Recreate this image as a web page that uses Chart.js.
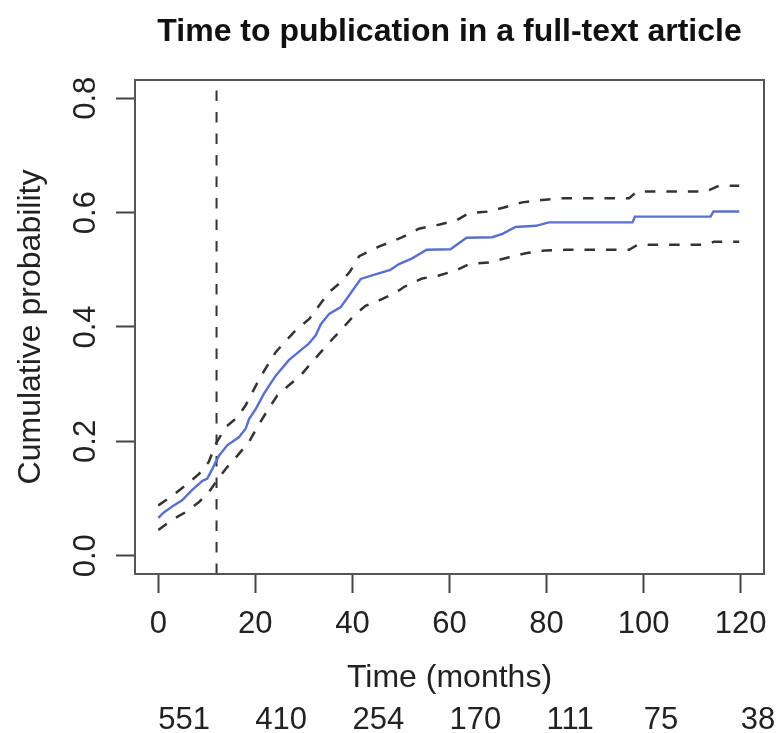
<!DOCTYPE html>
<html>
<head>
<meta charset="utf-8">
<script src="https://cdn.jsdelivr.net/npm/chart.js@4/dist/chart.umd.min.js"></script>
<style>
	html, body { margin: 0; padding: 0; background: #fff; }
	#wrap { width: 782px; height: 733px; }
</style>
</head>
<body>
<div id="wrap"><canvas id="cumInc"></canvas></div>
<script>
// axis ticks and limits (R pads the data range by 4%)
var xTicks = [0, 20, 40, 60, 80, 100, 120];
var yTicks = [0, 0.2, 0.4, 0.6, 0.8];
var xRange = [-4.8, 124.8];
var yRange = [-0.032, 0.832];

// number at risk under the axis
var riskCounts = [551, 410, 254, 170, 111, 75, 38];

// landmark (months)
var landmark = 12;

// cumulative probability, corners of the step curve
var cumTime = [0, 1.2, 3.2, 4.9, 7.0, 9.1, 10.1, 11.5, 12.5, 14.2, 16.6, 18.0, 18.7, 20.1, 21.8, 24.2, 26.9, 30.0, 31.0, 32.4, 33.5, 35.2, 37.6, 39.3, 41.7, 44.4, 47.8, 49.6, 52.3, 55.3, 60.2, 63.5, 68.8, 70.9, 73.6, 77.8, 80.5, 97.7, 98.2, 113.8, 114.4, 119.7];
var cumProb = [0.066, 0.076, 0.088, 0.097, 0.115, 0.131, 0.135, 0.158, 0.175, 0.193, 0.207, 0.222, 0.239, 0.257, 0.284, 0.315, 0.342, 0.364, 0.371, 0.385, 0.405, 0.423, 0.435, 0.455, 0.484, 0.491, 0.500, 0.510, 0.520, 0.535, 0.536, 0.556, 0.557, 0.563, 0.575, 0.577, 0.583, 0.583, 0.593, 0.593, 0.602, 0.602];

// upper confidence limit
var upperTime = [0, 2.9, 5.6, 8.4, 10.4, 11.8, 13.9, 16.3, 18.0, 19.4, 20.8, 22.5, 24.2, 26.3, 28.3, 31.1, 33.1, 35.2, 37.6, 39.5, 41.4, 45.3, 50.3, 53.7, 57.8, 61.3, 64.0, 68.1, 71.6, 75.0, 79.1, 83.2, 97.0, 98.6, 112.8, 115.5, 119.7];
var upperProb = [0.088, 0.105, 0.123, 0.143, 0.164, 0.195, 0.225, 0.242, 0.263, 0.286, 0.309, 0.333, 0.356, 0.376, 0.394, 0.414, 0.437, 0.461, 0.478, 0.497, 0.524, 0.540, 0.557, 0.572, 0.579, 0.586, 0.599, 0.602, 0.610, 0.618, 0.622, 0.625, 0.625, 0.637, 0.637, 0.647, 0.647];

// lower confidence limit
var lowerTime = [0, 2.9, 5.6, 8.4, 10.4, 12.2, 14.2, 16.3, 18.7, 20.4, 22.5, 24.5, 26.9, 29.3, 31.7, 33.8, 35.9, 37.9, 40.3, 42.7, 46.2, 49.6, 50.6, 54.4, 57.8, 61.3, 64.0, 68.1, 72.3, 75.7, 79.8, 83.9, 97.0, 98.8, 112.5, 114.5, 119.7];
var lowerProb = [0.045, 0.063, 0.076, 0.094, 0.111, 0.133, 0.155, 0.175, 0.199, 0.225, 0.254, 0.280, 0.298, 0.315, 0.339, 0.359, 0.379, 0.397, 0.420, 0.437, 0.449, 0.464, 0.470, 0.485, 0.490, 0.499, 0.510, 0.513, 0.522, 0.529, 0.534, 0.535, 0.535, 0.544, 0.544, 0.549, 0.549];

function pairs(xs, ys) {
	return xs.map(function (x, i) { return {x: x, y: ys[i]}; });
}

function fixTicks(values) {
	return function (scale) {
		scale.ticks = values.map(function (v) { return {value: v}; });
	};
}

Chart.defaults.font.family = '"Liberation Sans", Arial, Helvetica, sans-serif';
Chart.defaults.color = '#222';

// R-style box round the plot region
var frame = {
	id: 'frame',
	afterDatasetsDraw: function (chart) {
		var a = chart.chartArea;
		var ctx = chart.ctx;
		ctx.save();
		ctx.strokeStyle = '#555';
		ctx.lineWidth = 2;
		ctx.strokeRect(a.left, a.top, a.right - a.left, a.bottom - a.top);
		ctx.restore();
	}
};

var dashed = [10.5, 11];

var config = {
	type: 'line',
	data: {
		datasets: [
			{
				data: pairs(upperTime, upperProb),
				borderColor: '#333',
				borderWidth: 2.5,
				borderDash: dashed,
			},
			{
				data: pairs(lowerTime, lowerProb),
				borderColor: '#333',
				borderWidth: 2.5,
				borderDash: dashed,
			},
			{
				data: pairs(cumTime, cumProb),
				borderColor: '#5a6fcf',
				borderWidth: 2.4,
			},
			{
				data: [{x: landmark, y: yRange[0]}, {x: landmark, y: yRange[1]}],
				borderColor: '#333',
				borderWidth: 2,
				borderDash: dashed,
			}
		]
	},
	options: {
		responsive: true,
		maintainAspectRatio: false,
		animation: false,
		parsing: false,
		layout: {
			padding: {left: 0, top: 0, right: 18, bottom: 0}
		},
		elements: {
			point: {radius: 0},
			line: {tension: 0, fill: false}
		},
		scales: {
			x: {
				type: 'linear',
				position: 'bottom',
				min: xRange[0],
				max: xRange[1],
				weight: 0,
				afterBuildTicks: fixTicks(xTicks),
				afterFit: function (s) { s.height = 123; },
				ticks: {
					autoSkip: false,
					maxRotation: 0,
					padding: 13,
					font: {size: 31},
					callback: function (v) { return String(v); }
				},
				grid: {
					drawOnChartArea: false,
					drawTicks: true,
					tickLength: 19,
					tickWidth: 2,
					tickColor: '#444'
				},
				border: {display: false},
				title: {
					display: true,
					text: 'Time (months)',
					font: {size: 32},
					padding: {top: 0, bottom: 0}
				}
			},
			risk: {
				type: 'linear',
				axis: 'x',
				position: 'bottom',
				min: xRange[0],
				max: xRange[1],
				weight: 1,
				afterBuildTicks: fixTicks(xTicks),
				afterFit: function (s) { s.height = 36; },
				ticks: {
					autoSkip: false,
					maxRotation: 0,
					align: 'start',
					padding: 5,
					font: {size: 31},
					callback: function (v, i) { return String(riskCounts[i]); }
				},
				grid: {display: false, drawTicks: false},
				border: {display: false}
			},
			y: {
				type: 'linear',
				position: 'left',
				min: yRange[0],
				max: yRange[1],
				afterBuildTicks: fixTicks(yTicks),
				afterFit: function (s) { s.width = 135; },
				ticks: {
					minRotation: 90,
					maxRotation: 90,
					crossAlign: 'center',
					padding: 7.5,
					font: {size: 31},
					callback: function (v) { return v.toFixed(1); }
				},
				grid: {
					drawOnChartArea: false,
					drawTicks: true,
					tickLength: 19,
					tickWidth: 2,
					tickColor: '#444'
				},
				border: {display: false},
				title: {
					display: true,
					text: 'Cumulative probability',
					font: {size: 32},
					padding: {top: 12, bottom: 0}
				}
			}
		},
		plugins: {
			legend: {display: false},
			tooltip: {enabled: false},
			title: {
				display: true,
				fullSize: false,
				text: 'Time to publication in a full-text article',
				color: '#111',
				font: {size: 32, weight: 'bold'},
				padding: {top: 13, bottom: 28.6}
			}
		}
	},
	plugins: [frame]
};

var myChart = new Chart(document.getElementById('cumInc'), config);
</script>
</body>
</html>
